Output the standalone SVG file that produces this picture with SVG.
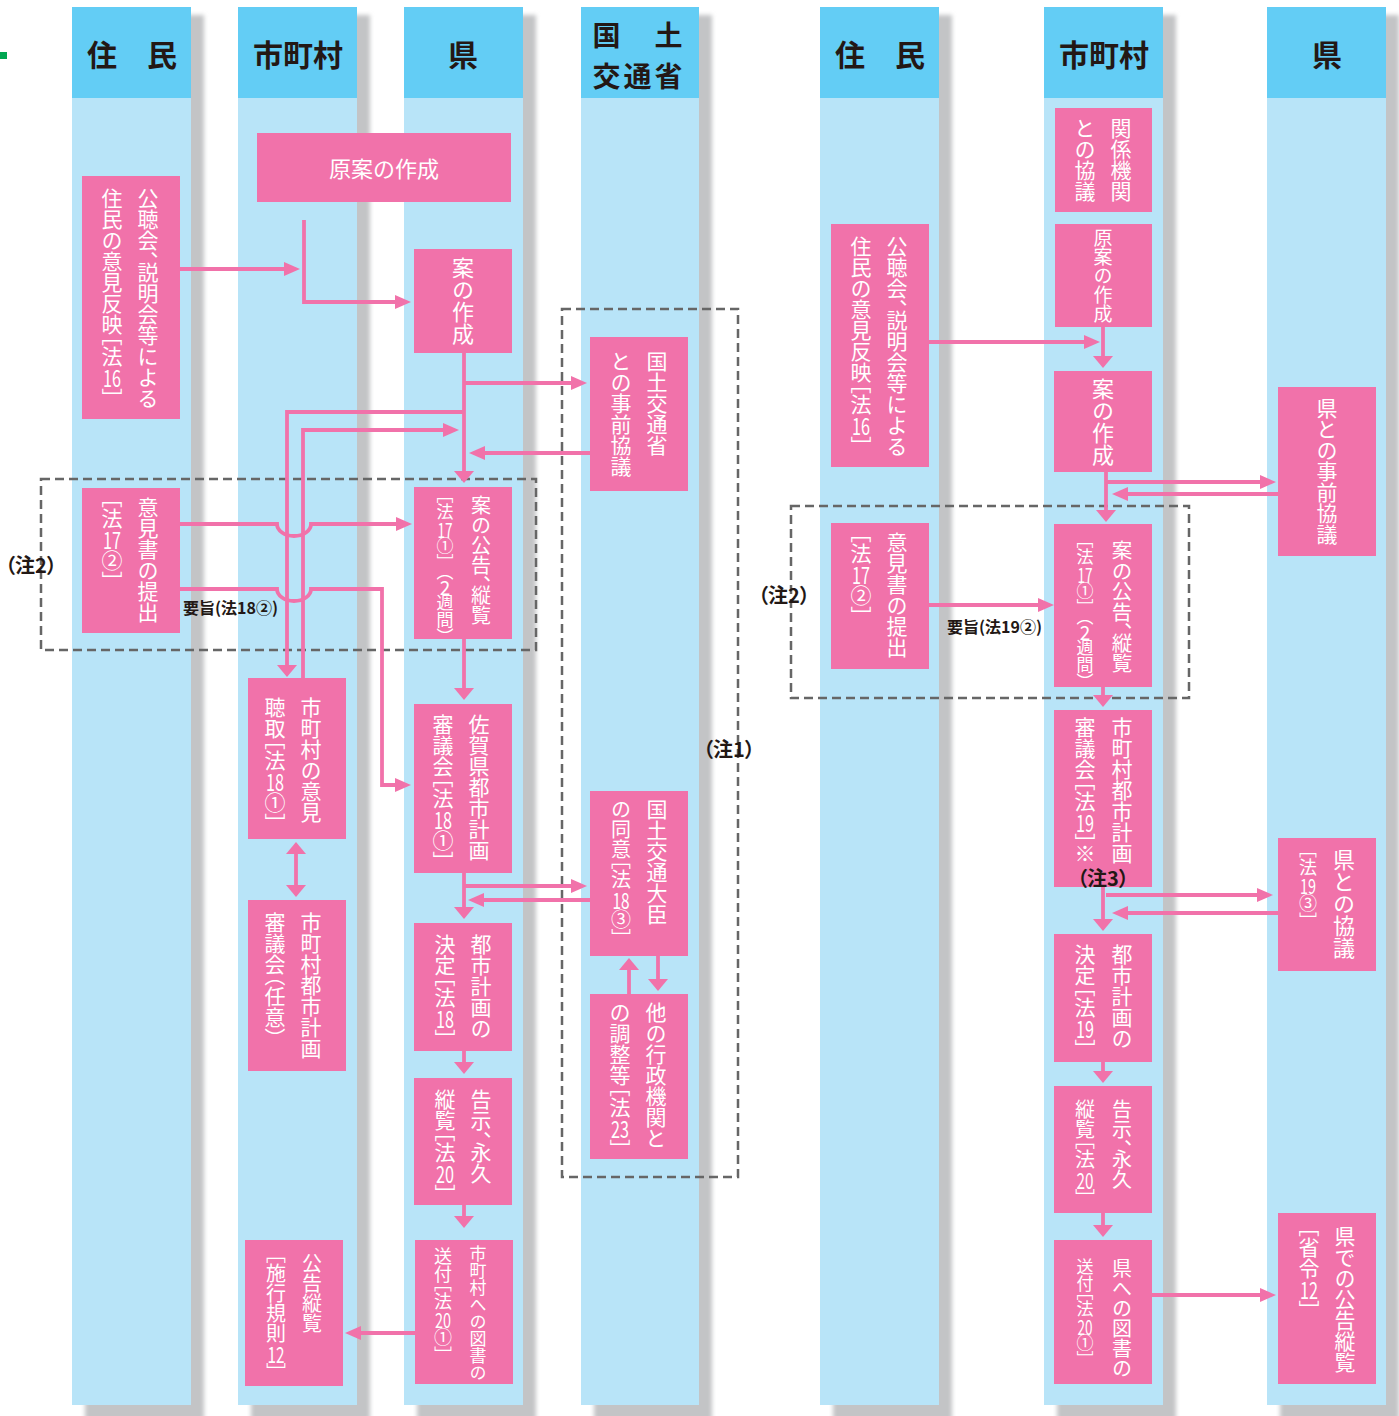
<svg xmlns="http://www.w3.org/2000/svg" width="1399" height="1416" viewBox="0 0 1399 1416">
<style>
.sh{fill:#C3C4C6;filter:url(#blur)}
.bd{fill:#B8E4F8}
.hdr{fill:#63CDF5}
.hd{font-family:"Noto Sans CJK JP","Noto Sans CJK SC",sans-serif;font-weight:700;fill:#231815;font-size:30px;text-anchor:middle;dominant-baseline:central}
.b{fill:#F172AA}
.v{writing-mode:vertical-rl;font-family:"Noto Sans CJK JP","Noto Sans CJK SC",sans-serif;fill:#fff}
.n{font-family:"Noto Sans CJK JP","Noto Sans CJK SC",sans-serif;fill:#fff;text-anchor:middle;dominant-baseline:central}
.hz{font-family:"Noto Sans CJK JP","Noto Sans CJK SC",sans-serif;fill:#fff;text-anchor:middle;dominant-baseline:central;font-size:22px}
.lb{font-family:"Noto Sans CJK JP","Noto Sans CJK SC",sans-serif;font-weight:700;fill:#231815;dominant-baseline:central}
.dash{fill:none;stroke:#666;stroke-width:2.5;stroke-dasharray:9 5}
.c{fill:none;stroke:#F172AA;stroke-width:3.8}
.ch{marker-end:url(#mh)}
.cv{marker-end:url(#mv)}
</style>
<defs>
<filter id="blur" x="-20%" y="-5%" width="140%" height="110%"><feGaussianBlur stdDeviation="2"/></filter>
<marker id="mh" markerUnits="userSpaceOnUse" markerWidth="16" markerHeight="14" viewBox="0 0 16 14" refX="10" refY="7" orient="auto-start-reverse"><path d="M0,0L16,7L0,14Z" fill="#F172AA"/></marker>
<marker id="mv" markerUnits="userSpaceOnUse" markerWidth="12" markerHeight="20" viewBox="0 0 12 20" refX="6" refY="10" orient="auto-start-reverse"><path d="M0,0L12,10L0,20Z" fill="#F172AA"/></marker>
</defs>
<rect width="1399" height="1416" fill="#fff"/>
<rect x="0" y="52" width="7" height="7" fill="#00A651"/>

<g id="lanes">
<rect class="sh" x="85" y="15" width="119" height="1405"/>
<rect class="sh" x="251" y="15" width="119" height="1405"/>
<rect class="sh" x="417" y="15" width="119" height="1405"/>
<rect class="sh" x="594" y="15" width="118" height="1405"/>
<rect class="sh" x="833" y="15" width="119" height="1405"/>
<rect class="sh" x="1057" y="15" width="119" height="1405"/>
<rect class="sh" x="1280" y="15" width="119" height="1405"/>
<rect class="bd" x="72" y="98" width="119" height="1307"/>
<rect class="bd" x="238" y="98" width="119" height="1307"/>
<rect class="bd" x="404" y="98" width="119" height="1307"/>
<rect class="bd" x="581" y="98" width="118" height="1307"/>
<rect class="bd" x="820" y="98" width="119" height="1307"/>
<rect class="bd" x="1044" y="98" width="119" height="1307"/>
<rect class="bd" x="1267" y="98" width="119" height="1307"/>
<rect class="hdr" x="72" y="7" width="119" height="91"/>
<rect class="hdr" x="238" y="7" width="119" height="91"/>
<rect class="hdr" x="404" y="7" width="119" height="91"/>
<rect class="hdr" x="581" y="7" width="118" height="91"/>
<rect class="hdr" x="820" y="7" width="119" height="91"/>
<rect class="hdr" x="1044" y="7" width="119" height="91"/>
<rect class="hdr" x="1267" y="7" width="119" height="91"/>
<text class="hd" x="132" y="53">住　民</text>
<text class="hd" x="298" y="53">市町村</text>
<text class="hd" x="463" y="53">県</text>
<text class="hd" style="font-size:28px;letter-spacing:3px"><tspan x="639" y="34">国　土</tspan><tspan x="639" y="75">交通省</tspan></text>
<text class="hd" x="880" y="53">住　民</text>
<text class="hd" x="1104" y="53">市町村</text>
<text class="hd" x="1327" y="53">県</text>
</g>

<g id="notes">
<rect class="dash" x="41" y="479" width="495" height="171"/>
<rect class="dash" x="562" y="309" width="176" height="868"/>
<rect class="dash" x="791" y="506" width="398" height="192"/>
<text class="lb" x="31" y="564" font-size="20" text-anchor="middle" style="font-feature-settings:'palt'">（注2）</text>
<text class="lb" x="729" y="748" font-size="20" text-anchor="middle" style="font-feature-settings:'palt'">（注1）</text>
<text class="lb" x="784" y="594" font-size="20" text-anchor="middle" style="font-feature-settings:'palt'">（注2）</text>
<text class="lb" x="183" y="607" font-size="16">要旨(法18②)</text>
<text class="lb" x="947" y="626" font-size="16">要旨(法19②)</text>
</g>

<g id="connectors">
<path class="c ch" d="M180,269H294"/>
<path class="c ch" d="M304,220V302H405"/>
<path class="c cv" d="M464,353V477"/>
<path class="c ch" d="M464,383H581"/>
<path class="c ch" d="M590,453H475"/>
<path class="c cv" d="M464,412H287V671"/>
<path class="c ch" d="M303,678V430H453"/>
<path class="c ch" d="M180,524H277A17,12 0 0 0 311,524H406"/>
<path class="c ch" d="M180,589H277A17,12 0 0 0 311,589H382V785H405"/>
<path class="c cv" d="M464,639V694"/>
<path class="c cv" d="M464,873V913"/>
<path class="c ch" d="M464,886H581"/>
<path class="c ch" d="M590,900H474"/>
<path class="c cv" d="M658,956V985"/>
<path class="c cv" d="M629,994V964"/>
<path class="c cv" d="M296,848V891" marker-start="url(#mv)"/>
<path class="c cv" d="M464,1051V1068"/>
<path class="c cv" d="M464,1205V1222"/>
<path class="c ch" d="M415,1333H351"/>
<path class="c cv" d="M1103,327V362"/>
<path class="c ch" d="M929,342H1094"/>
<path class="c cv" d="M1106,472V516"/>
<path class="c ch" d="M1106,482H1270"/>
<path class="c ch" d="M1278,494H1118"/>
<path class="c ch" d="M929,605H1048"/>
<path class="c cv" d="M1103,687V701"/>
<path class="c cv" d="M1103,887V925"/>
<path class="c ch" d="M1106,895H1267"/>
<path class="c ch" d="M1278,913H1118"/>
<path class="c cv" d="M1103,1062V1077"/>
<path class="c cv" d="M1103,1213V1231"/>
<path class="c ch" d="M1152,1295H1270"/>
</g>

<g id="n1"><rect class="b" x="257" y="133" width="254" height="69"/><text class="hz" x="384" y="167">原案の作成</text></g>

<g id="n2"><rect class="b" x="82" y="176" width="98" height="243"/>
<text class="v" x="148" y="188" font-size="21">公聴会<tspan y="251">、</tspan><tspan y="261.5">説明会等による</tspan></text>
<text class="v" x="112" y="188" font-size="21">住民の意見反映<tspan y="324.5">［</tspan><tspan y="345.5">法</tspan><tspan y="387.5">］</tspan></text>
<text class="n" x="112" y="377" font-size="23" textLength="18" lengthAdjust="spacingAndGlyphs">16</text></g>

<g id="n3"><rect class="b" x="414" y="249" width="98" height="104"/>
<text class="v" x="463" y="257" font-size="22">案の作成</text></g>

<g id="n4"><rect class="b" x="590" y="337" width="98" height="154"/>
<text class="v" x="657" y="351" font-size="21">国土交通省</text>
<text class="v" x="621" y="351" font-size="21">との事前協議</text></g>

<g id="n5"><rect class="b" x="82" y="488" width="98" height="145"/>
<text class="v" x="148" y="497" font-size="21">意見書の提出</text>
<text class="v" x="112" y="486.5" font-size="21">［<tspan y="507.5">法</tspan><tspan y="549.5">②</tspan><tspan y="570.5">］</tspan></text>
<text class="n" x="112" y="539" font-size="23" textLength="18" lengthAdjust="spacingAndGlyphs">17</text></g>

<g id="n6"><rect class="b" x="414" y="487" width="98" height="152"/>
<text class="v" x="481" y="495" font-size="20">案の公告<tspan y="575">、</tspan><tspan y="585">縦覧</tspan></text>
<text class="v" x="445" y="486.5" font-size="17">［<tspan y="503.5">法</tspan><tspan y="537.5">①</tspan><tspan y="554.5">］</tspan><tspan y="563">（</tspan><tspan y="593.6">週間</tspan><tspan y="627.6">）</tspan></text>
<text class="n" x="445" y="529" font-size="20" textLength="15" lengthAdjust="spacingAndGlyphs">17</text>
<text class="n" x="445" y="586.8" font-size="19">2</text></g>

<g id="n7"><rect class="b" x="248" y="678" width="98" height="161"/>
<text class="v" x="311" y="697" font-size="21">市町村の意見</text>
<text class="v" x="275" y="697" font-size="21">聴取<tspan y="728.5">［</tspan><tspan y="749.5">法</tspan><tspan y="791.5">①</tspan><tspan y="812.5">］</tspan></text>
<text class="n" x="275" y="781" font-size="23" textLength="18" lengthAdjust="spacingAndGlyphs">18</text></g>

<g id="n8"><rect class="b" x="414" y="704" width="98" height="169"/>
<text class="v" x="479" y="714" font-size="21">佐賀県都市計画</text>
<text class="v" x="443" y="714" font-size="21">審議会<tspan y="766.5">［</tspan><tspan y="787.5">法</tspan><tspan y="829.5">①</tspan><tspan y="850.5">］</tspan></text>
<text class="n" x="443" y="819" font-size="23" textLength="18" lengthAdjust="spacingAndGlyphs">18</text></g>

<g id="n9"><rect class="b" x="248" y="900" width="98" height="171"/>
<text class="v" x="311" y="912" font-size="21">市町村都市計画</text>
<text class="v" x="275" y="912" font-size="21">審議会<tspan y="964.5">（</tspan><tspan y="985.5">任意</tspan><tspan y="1027.5">）</tspan></text></g>

<g id="n10"><rect class="b" x="414" y="923" width="98" height="128"/>
<text class="v" x="481" y="934" font-size="21">都市計画の</text>
<text class="v" x="445" y="934" font-size="21">決定<tspan y="965.5">［</tspan><tspan y="986.5">法</tspan><tspan y="1028.5">］</tspan></text>
<text class="n" x="445" y="1018" font-size="23" textLength="18" lengthAdjust="spacingAndGlyphs">18</text></g>

<g id="n11"><rect class="b" x="590" y="791" width="98" height="165"/>
<text class="v" x="657" y="799" font-size="21">国土交通大臣</text>
<text class="v" x="621" y="799" font-size="20">の同意<tspan y="849">［</tspan><tspan y="869">法</tspan><tspan y="909">③</tspan><tspan y="929">］</tspan></text>
<text class="n" x="621" y="899" font-size="22" textLength="17" lengthAdjust="spacingAndGlyphs">18</text></g>

<g id="n12"><rect class="b" x="590" y="994" width="98" height="165"/>
<text class="v" x="656" y="1002" font-size="21">他の行政機関と</text>
<text class="v" x="620" y="1002" font-size="21">の調整等<tspan y="1075.5">［</tspan><tspan y="1096.5">法</tspan><tspan y="1138.5">］</tspan></text>
<text class="n" x="620" y="1128" font-size="23" textLength="18" lengthAdjust="spacingAndGlyphs">23</text></g>

<g id="n13"><rect class="b" x="414" y="1078" width="98" height="127"/>
<text class="v" x="481" y="1089" font-size="21">告示<tspan y="1131">、</tspan><tspan y="1141.5">永久</tspan></text>
<text class="v" x="445" y="1089" font-size="21">縦覧<tspan y="1120.5">［</tspan><tspan y="1141.5">法</tspan><tspan y="1183.5">］</tspan></text>
<text class="n" x="445" y="1173" font-size="23" textLength="18" lengthAdjust="spacingAndGlyphs">20</text></g>

<g id="n14"><rect class="b" x="415" y="1240" width="98" height="144"/>
<text class="v" x="478" y="1245" font-size="17">市町村への図書の</text>
<text class="v" x="443" y="1247" font-size="18">送付<tspan y="1274">［</tspan><tspan y="1292">法</tspan><tspan y="1328">①</tspan><tspan y="1346">］</tspan></text>
<text class="n" x="443" y="1319" font-size="20" textLength="16" lengthAdjust="spacingAndGlyphs">20</text></g>

<g id="n15"><rect class="b" x="245" y="1240" width="98" height="146"/>
<text class="v" x="312" y="1253" font-size="20">公告縦覧</text>
<text class="v" x="276" y="1243" font-size="20">［<tspan y="1263">施行規則</tspan><tspan y="1363">］</tspan></text>
<text class="n" x="276" y="1353" font-size="22" textLength="17" lengthAdjust="spacingAndGlyphs">12</text></g>

<g id="n16"><rect class="b" x="1055" y="108" width="97" height="104"/>
<text class="v" x="1121" y="118" font-size="21">関係機関</text>
<text class="v" x="1085" y="118" font-size="21">との協議</text></g>

<g id="n17"><rect class="b" x="1055" y="224" width="97" height="103"/>
<text class="v" x="1103" y="228" font-size="19">原案の作成</text></g>

<g id="n18"><rect class="b" x="831" y="224" width="98" height="243"/>
<text class="v" x="897" y="236" font-size="21">公聴会<tspan y="299">、</tspan><tspan y="309.5">説明会等による</tspan></text>
<text class="v" x="861" y="236" font-size="21">住民の意見反映<tspan y="372.5">［</tspan><tspan y="393.5">法</tspan><tspan y="435.5">］</tspan></text>
<text class="n" x="861" y="425" font-size="23" textLength="18" lengthAdjust="spacingAndGlyphs">16</text></g>

<g id="n19"><rect class="b" x="1054" y="371" width="98" height="101"/>
<text class="v" x="1103" y="378" font-size="22">案の作成</text></g>

<g id="n20"><rect class="b" x="1278" y="387" width="98" height="169"/>
<text class="v" x="1327" y="398" font-size="21">県との事前協議</text></g>

<g id="n21"><rect class="b" x="831" y="523" width="98" height="146"/>
<text class="v" x="897" y="532" font-size="21">意見書の提出</text>
<text class="v" x="861" y="521.5" font-size="21">［<tspan y="542.5">法</tspan><tspan y="584.5">②</tspan><tspan y="605.5">］</tspan></text>
<text class="n" x="861" y="574" font-size="23" textLength="18" lengthAdjust="spacingAndGlyphs">17</text></g>

<g id="n22"><rect class="b" x="1054" y="524" width="98" height="163"/>
<text class="v" x="1122" y="540" font-size="20.5">案の公告<tspan y="622">、</tspan><tspan y="632.25">縦覧</tspan></text>
<text class="v" x="1085" y="531.5" font-size="17">［<tspan y="548.5">法</tspan><tspan y="582.5">①</tspan><tspan y="599.5">］</tspan><tspan y="608">（</tspan><tspan y="638.6">週間</tspan><tspan y="672.6">）</tspan></text>
<text class="n" x="1085" y="574" font-size="20" textLength="15" lengthAdjust="spacingAndGlyphs">17</text>
<text class="n" x="1085" y="631.8" font-size="19">2</text></g>

<g id="n23"><rect class="b" x="1054" y="710" width="98" height="177"/>
<text class="v" x="1122" y="717" font-size="21">市町村都市計画</text>
<text class="v" x="1085" y="717" font-size="21">審議会<tspan y="769.5">［</tspan><tspan y="790.5">法</tspan><tspan y="832.5">］</tspan><tspan y="843">※</tspan></text>
<text class="n" x="1085" y="822" font-size="23" textLength="18" lengthAdjust="spacingAndGlyphs">19</text>
<text class="lb" x="1103" y="877" font-size="20" text-anchor="middle" style="font-feature-settings:'palt'">（注3）</text></g>

<g id="n24"><rect class="b" x="1278" y="838" width="98" height="133"/>
<text class="v" x="1344" y="849" font-size="22">県との協議</text>
<text class="v" x="1308" y="840" font-size="18">［<tspan y="858">法</tspan><tspan y="894">③</tspan><tspan y="912">］</tspan></text>
<text class="n" x="1308" y="885" font-size="21" textLength="16" lengthAdjust="spacingAndGlyphs">19</text></g>

<g id="n25"><rect class="b" x="1054" y="934" width="98" height="128"/>
<text class="v" x="1122" y="944" font-size="21">都市計画の</text>
<text class="v" x="1085" y="944" font-size="21">決定<tspan y="975.5">［</tspan><tspan y="996.5">法</tspan><tspan y="1038.5">］</tspan></text>
<text class="n" x="1085" y="1028" font-size="23" textLength="18" lengthAdjust="spacingAndGlyphs">19</text></g>

<g id="n26"><rect class="b" x="1054" y="1086" width="98" height="127"/>
<text class="v" x="1122" y="1099" font-size="20">告示<tspan y="1139">、</tspan><tspan y="1149">永久</tspan></text>
<text class="v" x="1085" y="1099" font-size="20">縦覧<tspan y="1129">［</tspan><tspan y="1149">法</tspan><tspan y="1189">］</tspan></text>
<text class="n" x="1085" y="1179" font-size="22" textLength="17" lengthAdjust="spacingAndGlyphs">20</text></g>

<g id="n27"><rect class="b" x="1054" y="1240" width="98" height="144"/>
<text class="v" x="1122" y="1258" font-size="20">県への図書の</text>
<text class="v" x="1085" y="1258" font-size="17">送付<tspan y="1283.5">［</tspan><tspan y="1300.5">法</tspan><tspan y="1334.5">①</tspan><tspan y="1351.5">］</tspan></text>
<text class="n" x="1085" y="1326" font-size="20" textLength="15" lengthAdjust="spacingAndGlyphs">20</text></g>

<g id="n28"><rect class="b" x="1278" y="1213" width="98" height="171"/>
<text class="v" x="1345" y="1226" font-size="21">県での公告縦覧</text>
<text class="v" x="1309" y="1215.5" font-size="21">［<tspan y="1236.5">省令</tspan><tspan y="1299.5">］</tspan></text>
<text class="n" x="1309" y="1289" font-size="23" textLength="18" lengthAdjust="spacingAndGlyphs">12</text></g>
</svg>
